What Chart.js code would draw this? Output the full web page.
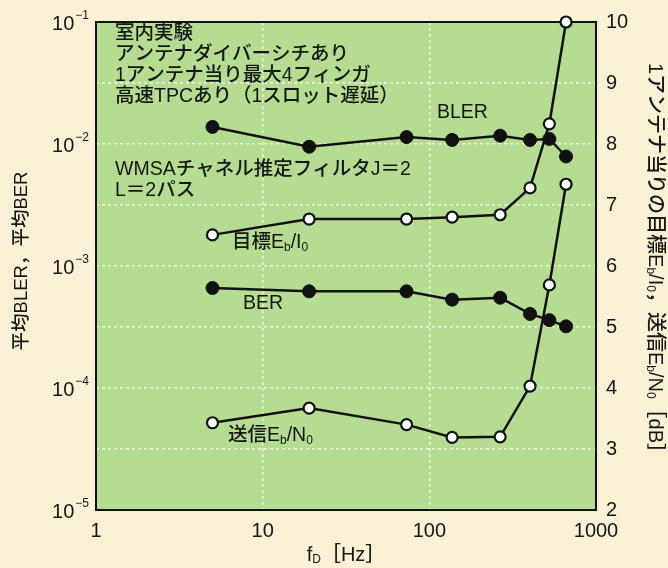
<!DOCTYPE html>
<html>
<head>
<meta charset="utf-8">
<script src="https://cdn.jsdelivr.net/npm/chart.js@4/dist/chart.umd.min.js"></script>
<style>
  html, body { margin: 0; padding: 0; background: #f8f1d4; }
  canvas { display: block; }
</style>
</head>
<body>
<canvas id="c" width="668" height="568"></canvas>
<script>
// Maximum Doppler frequency f_D [Hz]
const fd = [5, 19, 73, 137, 266, 402, 525, 661];
// Average block error rate and bit error rate (left axis)
const bler = [0.0138, 0.0095, 0.0114, 0.0108, 0.0117, 0.0108, 0.0110, 0.0079];
const ber  = [6.6e-4, 6.2e-4, 6.2e-4, 5.3e-4, 5.5e-4, 4.05e-4, 3.6e-4, 3.2e-4];
// Target Eb/I0 per antenna and transmit Eb/N0 [dB] (right axis)
const targetEbI0 = [6.51, 6.77, 6.77, 6.80, 6.84, 7.28, 8.33, 10.0];
const txEbN0     = [3.43, 3.67, 3.40, 3.19, 3.20, 4.03, 5.69, 7.34];
// Tick values
const xTicks = [1, 10, 100, 1000];
const yTicks = [1e-1, 1e-2, 1e-3, 1e-4, 1e-5];
const yExp   = ['−1', '−2', '−3', '−4', '−5'];

const INK = '#161616';
const LAT = "'Liberation Sans', Arial, sans-serif";
const MIX = "'Liberation Sans', 'Noto Sans CJK JP', sans-serif";
const GRID = 'rgba(255,255,255,0.75)';

const pts = ys => fd.map((x, i) => ({ x, y: ys[i] }));

// draw text made of parts, some of them subscripted; returns the width
function drawRich(ctx, parts, x, y, size, measureOnly) {
  let cx = x;
  for (const p of parts) {
    const s = p.sub ? Math.round(size * 0.6) : size;
    ctx.font = '500 ' + s + 'px ' + MIX;
    if (!measureOnly) ctx.fillText(p.t, cx, p.sub ? y + size * 0.22 : y);
    cx += ctx.measureText(p.t).width;
  }
  return cx - x;
}

const notes = [
  { parts: [{ t: '室内実験' }], x: 115, y: 34 },
  { parts: [{ t: 'アンテナダイバーシチあり' }], x: 115, y: 55 },
  { parts: [{ t: '1アンテナ当り最大4フィンガ' }], x: 115, y: 76 },
  { parts: [{ t: '高速TPCあり（1スロット遅延）' }], x: 115, y: 97 },
  { parts: [{ t: 'BLER' }], x: 437, y: 113 },
  { parts: [{ t: 'WMSAチャネル推定フィルタJ＝2' }], x: 115, y: 170 },
  { parts: [{ t: 'L＝2パス' }], x: 115, y: 191 },
  { parts: [{ t: '目標E' }, { t: 'b', sub: true }, { t: '/I' }, { t: '0', sub: true }], x: 232, y: 243 },
  { parts: [{ t: 'BER' }], x: 243, y: 304 },
  { parts: [{ t: '送信E' }, { t: 'b', sub: true }, { t: '/N' }, { t: '0', sub: true }], x: 228, y: 436 },
];

const decor = {
  id: 'decor',
  beforeDraw(chart) {
    const { ctx, chartArea: a } = chart;
    ctx.save();
    ctx.fillStyle = '#f8f1d4';
    ctx.fillRect(0, 0, chart.width, chart.height);
    ctx.fillStyle = '#b4dd91';
    ctx.fillRect(a.left, a.top, a.right - a.left, a.bottom - a.top);
    ctx.restore();
  },
  beforeDatasetsDraw(chart) {
    const { ctx, chartArea: a } = chart;
    ctx.save();
    ctx.strokeStyle = '#111';
    ctx.lineWidth = 2;
    ctx.strokeRect(a.left, a.top, a.right - a.left, a.bottom - a.top);
    ctx.restore();
  },
  afterDraw(chart) {
    const { ctx } = chart;
    const ys = chart.scales.y;
    ctx.save();
    ctx.fillStyle = INK;
    ctx.textBaseline = 'middle';
    // annotations inside the plot
    for (const n of notes) drawRich(ctx, n.parts, n.x, n.y, 19.5);

    // left tick labels: 10 with a raised exponent
    ctx.textBaseline = 'alphabetic';
    yTicks.forEach((v, i) => {
      const py = ys.getPixelForValue(v);
      ctx.font = '12px ' + LAT;
      const ew = ctx.measureText(yExp[i]).width;
      ctx.font = '20px ' + LAT;
      const bw = ctx.measureText('10').width;
      const right = 89;
      ctx.fillText('10', right - ew - bw - 1, py + 8);
      ctx.font = '12px ' + LAT;
      ctx.fillText(yExp[i], right - ew, py - 3);
    });

    ctx.textBaseline = 'middle';
    // left axis title
    ctx.save();
    ctx.translate(22, 261);
    ctx.rotate(-Math.PI / 2);
    const lt = [{ t: '平均BLER，平均BER' }];
    const lw = drawRich(ctx, lt, 0, 0, 18.5, true);
    drawRich(ctx, lt, -lw / 2, 0, 18.5);
    ctx.restore();

    // right axis title
    ctx.save();
    ctx.translate(655, 263);
    ctx.rotate(Math.PI / 2);
    const rt = [{ t: '1アンテナ当りの目標E' }, { t: 'b', sub: true }, { t: '/I' }, { t: '0', sub: true },
                { t: '，送信E' }, { t: 'b', sub: true }, { t: '/N' }, { t: '0', sub: true }, { t: '［dB］' }];
    const rw = drawRich(ctx, rt, 0, 0, 20, true);
    drawRich(ctx, rt, -rw / 2, 0, 20);
    ctx.restore();

    // x axis title
    const xt = [{ t: 'f' }, { t: 'D', sub: true }, { t: '［Hz］' }];
    const xw = drawRich(ctx, xt, 0, 0, 20, true);
    drawRich(ctx, xt, 346 - xw / 2, 555, 20);
    ctx.restore();
  }
};

const filled = { borderColor: '#111', backgroundColor: '#111', pointBackgroundColor: '#111',
                 pointBorderColor: '#111', pointRadius: 6.5, pointBorderWidth: 1, borderWidth: 2.5 };
const open = { borderColor: '#111', backgroundColor: '#fff', pointBackgroundColor: '#fff',
               pointBorderColor: '#111', pointRadius: 5.5, pointBorderWidth: 2.2, borderWidth: 2.5 };

new Chart(document.getElementById('c'), {
  type: 'line',
  data: {
    datasets: [
      { label: 'BLER', data: pts(bler), yAxisID: 'y', ...filled },
      { label: 'BER', data: pts(ber), yAxisID: 'y', ...filled },
      { label: '目標Eb/I0', data: pts(targetEbI0), yAxisID: 'y2', ...open },
      { label: '送信Eb/N0', data: pts(txEbN0), yAxisID: 'y2', ...open },
    ]
  },
  options: {
    responsive: false,
    animation: false,
    clip: false,
    layout: { padding: { top: 17, left: 0, right: 0, bottom: 0 } },
    plugins: { legend: { display: false }, tooltip: { enabled: false } },
    scales: {
      x: {
        type: 'logarithmic', position: 'bottom', min: 1, max: 1000,
        afterBuildTicks: s => { s.ticks = xTicks.map(v => ({ value: v })); },
        afterFit: s => { s.height = 58; },
        ticks: { callback: v => String(v), color: INK, font: { family: LAT, size: 20 },
                 padding: 9, maxRotation: 0, autoSkip: false },
        grid: { drawTicks: false, lineWidth: 1.5,
                color: c => (c.tick && (c.tick.value === 10 || c.tick.value === 100)) ? GRID : 'rgba(0,0,0,0)' },
        border: { display: false, dash: [3, 3] }
      },
      y: {
        type: 'logarithmic', position: 'left', min: 1e-5, max: 1e-1,
        afterBuildTicks: s => { s.ticks = yTicks.map(v => ({ value: v })); },
        afterFit: s => { s.width = 96; },
        ticks: { display: false },
        grid: { display: false },
        border: { display: false }
      },
      y2: {
        type: 'linear', position: 'right', min: 2, max: 10,
        afterFit: s => { s.width = 72; },
        ticks: { stepSize: 1, color: INK, font: { family: LAT, size: 20 }, padding: 10 },
        grid: { drawTicks: false, lineWidth: 1.5,
                color: c => (c.tick && c.tick.value > 2 && c.tick.value < 10) ? GRID : 'rgba(0,0,0,0)' },
        border: { display: false, dash: [3, 3] }
      }
    }
  },
  plugins: [decor]
});
</script>
</body>
</html>
